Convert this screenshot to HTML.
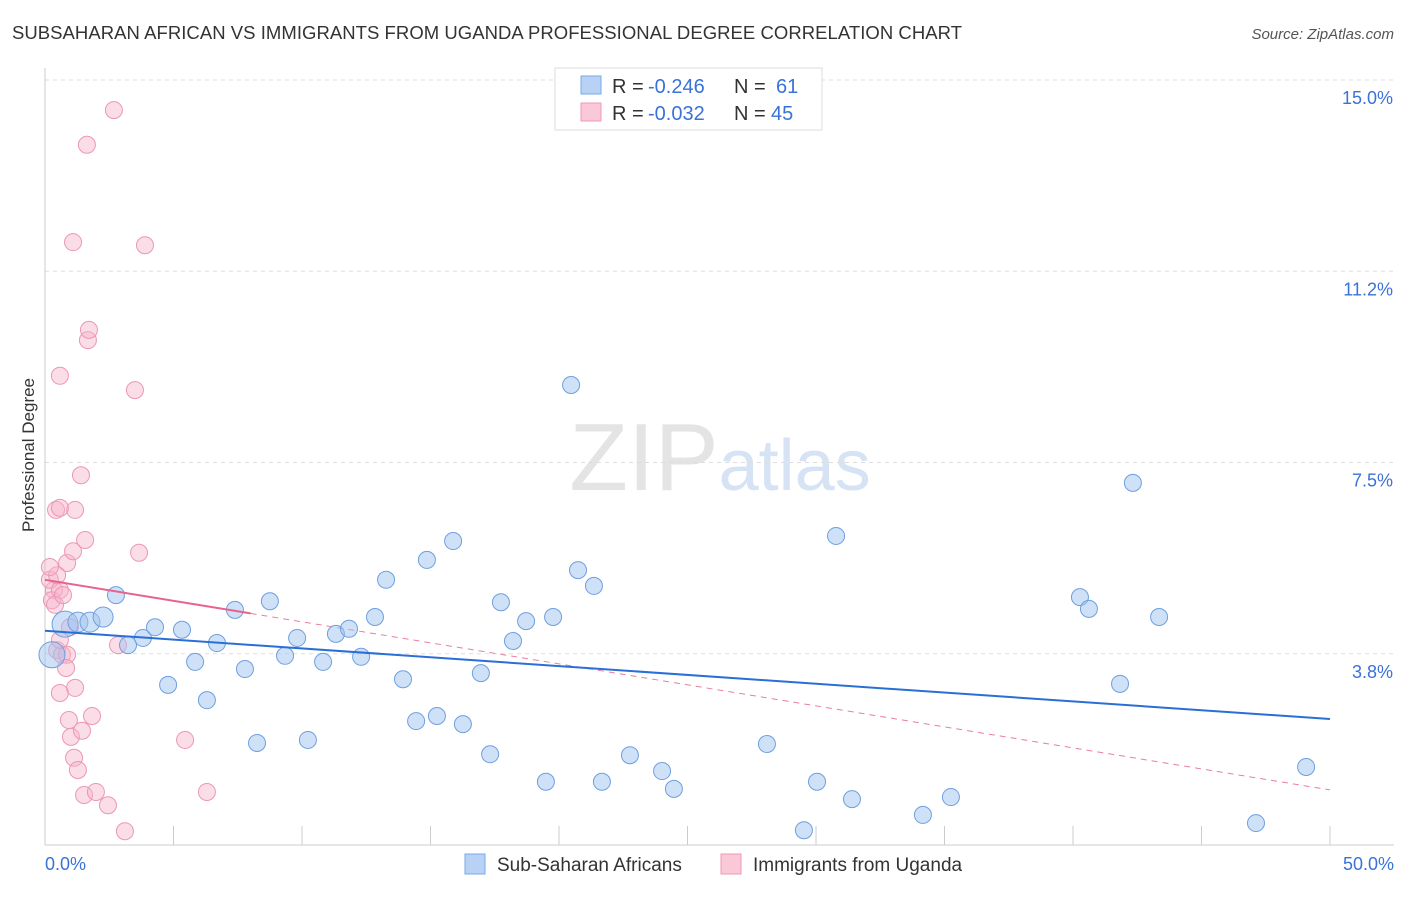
<!DOCTYPE html>
<html><head><meta charset="utf-8"><style>
body{margin:0;background:#fff;font-family:"Liberation Sans",sans-serif}
svg text{font-family:"Liberation Sans",sans-serif}
</style></head><body>
<svg id="chart" width="1406" height="892">
<text x="12" y="39" font-size="18.5" fill="#333" textLength="950">SUBSAHARAN AFRICAN VS IMMIGRANTS FROM UGANDA PROFESSIONAL DEGREE CORRELATION CHART</text>
<text x="1394" y="39" font-size="15" fill="#555" font-style="italic" text-anchor="end">Source: ZipAtlas.com</text>
<text x="720" y="490" font-size="96" fill="#e4e4e4" text-anchor="middle" font-family="Liberation Serif">ZIP<tspan fill="#d5e3f5" font-family="Liberation Sans" font-size="72">atlas</tspan></text>
<text transform="translate(34,455) rotate(-90)" font-size="17" fill="#333" text-anchor="middle">Professional Degree</text>
<g id="grid"></g><g id="axes"></g><g id="trend"></g><g id="pts"></g>
<g>
<rect x="555" y="68" width="267" height="62" fill="#fff" stroke="#ddd"/>
<rect x="581" y="76" width="20" height="18" fill="#b7d2f5" stroke="#7aa8e6"/>
<rect x="581" y="103" width="20" height="18" fill="#fbc8d7" stroke="#ee9ab4"/>
<text x="612" y="93" font-size="20" fill="#333">R =</text>
<text x="648" y="93" font-size="20" fill="#3a72d8">-0.246</text>
<text x="734" y="93" font-size="20" fill="#333">N =</text>
<text x="776" y="93" font-size="20" fill="#3a72d8">61</text>
<text x="612" y="120" font-size="20" fill="#333">R =</text>
<text x="648" y="120" font-size="20" fill="#3a72d8">-0.032</text>
<text x="734" y="120" font-size="20" fill="#333">N =</text>
<text x="771" y="120" font-size="20" fill="#3a72d8">45</text>
</g>
<g>
<rect x="465" y="854" width="20" height="20" fill="#b7d2f5" stroke="#7aa8e6"/>
<text x="497" y="871" font-size="19" fill="#333">Sub-Saharan Africans</text>
<rect x="721" y="854" width="20" height="20" fill="#fbc8d7" stroke="#ee9ab4"/>
<text x="753" y="871" font-size="19" fill="#333">Immigrants from Uganda</text>
</g>
</svg>
<script>
const blueX=[0.27,0.78,1.28,1.75,2.26,2.76,3.23,3.81,4.28,4.79,5.33,5.84,6.30,6.69,7.39,7.78,8.25,8.75,9.34,9.81,10.23,10.82,11.32,11.83,12.30,12.84,13.27,13.93,14.44,14.86,15.25,15.88,16.26,16.96,17.32,17.74,18.21,18.72,19.49,19.77,20.47,20.74,21.36,21.67,22.76,24.01,24.47,28.09,29.53,30.04,30.78,31.40,34.16,35.25,40.27,40.62,41.83,42.33,43.35,47.12,49.07];
const blueY=[3.73,4.33,4.37,4.37,4.47,4.90,3.92,4.06,4.27,3.14,4.22,3.59,2.84,3.96,4.61,3.45,2.00,4.78,3.71,4.06,2.06,3.59,4.14,4.24,3.69,4.47,5.20,3.25,2.43,5.59,2.53,5.96,2.37,3.37,1.78,4.76,4.00,4.39,1.24,4.47,9.02,5.39,5.08,1.24,1.76,1.45,1.10,1.98,0.29,1.24,6.06,0.90,0.59,0.94,4.86,4.63,3.16,7.10,4.47,0.43,1.53];
const pinkX=[0.35,0.19,0.27,0.47,0.58,0.66,0.86,0.82,0.97,1.09,1.17,1.40,1.56,1.67,1.63,1.71,2.68,3.89,3.50,0.58,0.39,0.70,0.43,0.58,0.86,1.09,0.58,1.17,0.93,1.01,1.13,1.28,1.52,1.44,1.83,1.98,2.45,3.11,2.84,3.66,5.45,6.30,0.47,0.19,0.58];
const pinkY=[5.00,5.20,4.80,3.82,9.20,3.73,3.73,3.47,4.27,11.82,6.57,7.25,5.98,9.90,13.73,10.10,14.41,11.76,8.92,5.00,4.71,4.90,6.57,6.61,5.53,5.76,2.98,3.08,2.45,2.12,1.71,1.47,0.98,2.24,2.53,1.04,0.78,0.27,3.92,5.73,2.06,1.04,5.29,5.45,4.02];
const blueTrend=[4.20,2.47];
const pinkTrend=[5.20,1.08];
const yTicks=[3.8,7.5,11.2,15.0];
const yTickVals=[3.75,7.5,11.25,15];
const NS="http://www.w3.org/2000/svg";
const sx=v=>45+v*25.7, sy=v=>845-v*51;
function mk(t,a,p){const e=document.createElementNS(NS,t);for(const k in a)e.setAttribute(k,a[k]);p.appendChild(e);return e;}
const grid=document.getElementById('grid'),axes=document.getElementById('axes');
yTickVals.forEach((v,i)=>{
 const l=mk('line',{x1:45,x2:1394,y1:sy(v),y2:sy(v),stroke:'#ddd','stroke-dasharray':'4,4'},grid);
 
 
 const t=mk('text',{x:1393,y:sy(v)+24,'font-size':18,fill:'#3a72d8','text-anchor':'end'},axes);
 t.textContent=yTicks[i].toFixed(1)+'%';
 
 
});
mk('line',{x1:45,x2:45,y1:68,y2:845,stroke:'#ccc'},axes);
mk('line',{x1:45,x2:1394,y1:845,y2:845,stroke:'#ccc'},axes);
for(let i=0;i<=10;i++){const t=mk('line',{x1:sx(i*5),x2:sx(i*5),y1:826,y2:845,stroke:'#ccc'},axes);
 
 }
[['0.0%',45,'start'],['50.0%',1394,'end']].forEach(d=>{const t=mk('text',{x:d[1],y:870,'font-size':18,fill:'#3a72d8','text-anchor':d[2]},axes);t.textContent=d[0];
 
 });
const tr=document.getElementById('trend'),pts=document.getElementById('pts');
const pl=v=>pinkTrend[0]+(pinkTrend[1]-pinkTrend[0])*v/50;
let e=mk('line',{x1:sx(8),y1:sy(pl(8)),x2:sx(50),y2:sy(pl(50)),stroke:'#e87fa0','stroke-dasharray':'6,5','stroke-width':1},tr);


pinkX.forEach((x,i)=>{const c=mk('circle',{cx:sx(x),cy:sy(pinkY[i]),r:8.5,fill:'rgba(247,180,203,0.45)',stroke:'#ec97b3'},pts);
 
 });
blueX.forEach((x,i)=>{const r=i<2?13:(i<5?10:8.5);const c=mk('circle',{cx:sx(x),cy:sy(blueY[i]),r:r,fill:'rgba(160,196,240,0.5)',stroke:'#6e9fe0'},pts);
 
 });
e=mk('line',{x1:sx(0),y1:sy(blueTrend[0]),x2:sx(50),y2:sy(blueTrend[1]),stroke:'#2a6fd6','stroke-width':2},pts);


e=mk('line',{x1:sx(0),y1:sy(pl(0)),x2:sx(8),y2:sy(pl(8)),stroke:'#e8628e','stroke-width':2},pts);


</script>
</body></html>
